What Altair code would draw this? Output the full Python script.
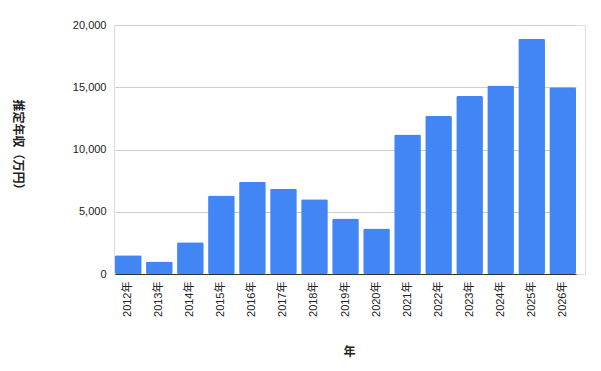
import altair as alt
import pandas as pd

years = ["2012年", "2013年", "2014年", "2015年", "2016年", "2017年", "2018年", "2019年",
         "2020年", "2021年", "2022年", "2023年", "2024年", "2025年", "2026年"]
values = [1500, 1000, 2550, 6300, 7400, 6850, 6000, 4450, 3650, 11200, 12700, 14300, 15150, 18900, 15000]

df = pd.DataFrame({"year": years, "value": values})

FONT = "Liberation Sans, Noto Sans CJK JP, sans-serif"

chart = alt.Chart(df).mark_bar(color="#4285F4", cornerRadius=1.5).encode(
    x=alt.X("year:N", sort=years,
            scale=alt.Scale(range=[1, 462], paddingInner=0.14, paddingOuter=0),
            axis=alt.Axis(title="年", labelAngle=270, labelPadding=7, ticks=False,
                          domain=True, domainColor="#333333", domainWidth=1,
                          labelFont=FONT, labelFontSize=11, labelColor="#222222",
                          titleFont="Noto Sans CJK JP", titleFontSize=12, titleFontWeight="bold",
                          titleColor="#222222", titleX=235, titleY=77,
                          titleAlign="center", titleBaseline="middle")),
    y=alt.Y("value:Q", scale=alt.Scale(domain=[0, 20000], nice=False),
            axis=alt.Axis(title="推定年収（万円）", values=[0, 5000, 10000, 15000, 20000],
                          format=",.0f", ticks=False, domain=False, labelPadding=8,
                          gridColor="#cccccc", labelFont=FONT, labelFontSize=11,
                          labelColor="#222222",
                          titleFont="Noto Sans CJK JP", titleFontSize=12, titleFontWeight="bold",
                          titleColor="#222222", titleAngle=90, titleX=-97, titleY=122,
                          titleAlign="center", titleBaseline="middle")),
).properties(
    width=471, height=249,
    autosize=alt.AutoSizeParams(type="none"),
    padding={"left": 114, "top": 25, "right": 16, "bottom": 97},
).configure_view(stroke=None).configure(background="white")

chart.save("out.html", embed_options={"renderer": "svg", "actions": False})
